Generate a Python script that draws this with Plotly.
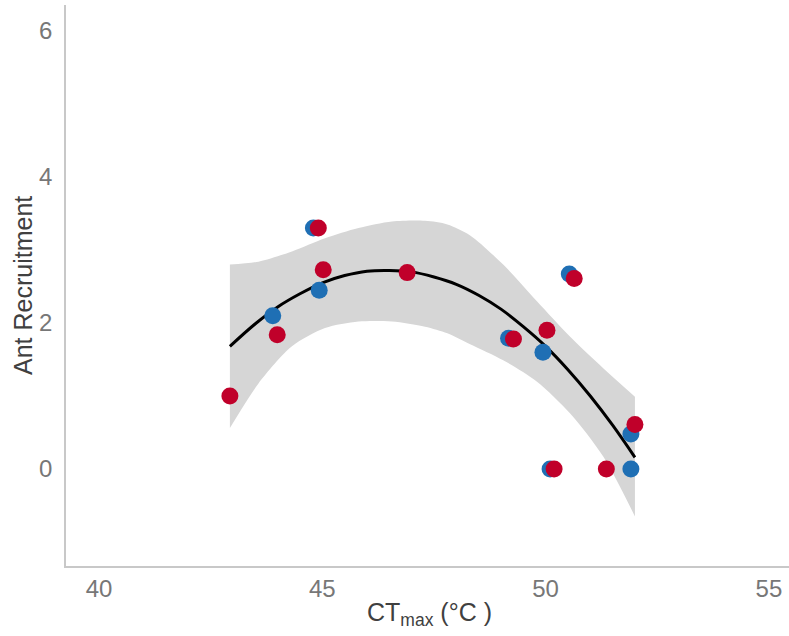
import plotly.graph_objects as go

# Observed points
red_x = [42.93, 43.99, 44.91, 45.02, 46.90, 49.28, 50.03, 50.64, 50.19, 51.36, 52.00]
red_y = [1.00, 1.84, 3.30, 2.73, 2.69, 1.78, 1.90, 2.61, 0.00, 0.00, 0.61]
blue_x = [44.80, 43.89, 44.93, 49.17, 49.94, 50.53, 50.10, 51.91, 51.91]
blue_y = [3.30, 2.10, 2.45, 1.79, 1.60, 2.67, 0.00, 0.00, 0.48]

# Fitted curve
fit_x = [42.93, 43.5, 44.0, 44.5, 45.0, 45.5, 46.0, 46.5, 47.0, 47.5, 48.0, 48.5,
         49.0, 49.5, 50.0, 50.5, 51.0, 51.5, 52.0]
fit_y = [1.68, 1.99, 2.22, 2.40, 2.55, 2.65, 2.71, 2.72, 2.70, 2.63, 2.53, 2.38,
         2.19, 1.95, 1.68, 1.36, 1.00, 0.60, 0.16]

# Confidence band
ci_x = [42.93, 43.57, 44.32, 45.06, 45.81, 46.56, 47.30, 47.80, 48.31, 49.05, 49.80, 50.55, 51.29, 52.00]
ci_hi = [2.80, 2.84, 2.98, 3.16, 3.30, 3.39, 3.40, 3.35, 3.20, 2.80, 2.30, 1.81, 1.38, 0.99]
ci_lo = [0.56, 1.17, 1.68, 1.93, 2.02, 2.02, 1.95, 1.86, 1.71, 1.49, 1.20, 0.76, 0.17, -0.65]

x_ticks = [40, 45, 50, 55]
y_ticks = [0, 2, 4, 6]

RED = "#C0002A"
BLUE = "#1F6FB4"

fig = go.Figure()
fig.add_trace(go.Scatter(x=ci_x, y=ci_lo, mode="lines", line=dict(width=0, shape="spline", smoothing=0.8),
                         hoverinfo="skip", showlegend=False))
fig.add_trace(go.Scatter(x=ci_x, y=ci_hi, mode="lines", line=dict(width=0, shape="spline", smoothing=0.8),
                         fill="tonexty", fillcolor="#D6D6D6", hoverinfo="skip", showlegend=False))
fig.add_trace(go.Scatter(x=fit_x, y=fit_y, mode="lines", line=dict(color="black", width=3, shape="spline"),
                         showlegend=False))
fig.add_trace(go.Scatter(x=blue_x, y=blue_y, mode="markers", marker=dict(color=BLUE, size=17),
                         showlegend=False))
fig.add_trace(go.Scatter(x=red_x, y=red_y, mode="markers", marker=dict(color=RED, size=17),
                         showlegend=False))

font_family = "Liberation Sans, Arial, sans-serif"
fig.update_layout(
    width=789, height=636,
    margin=dict(l=66, r=0, t=5, b=70),
    plot_bgcolor="white", paper_bgcolor="white",
    font=dict(family=font_family),
    xaxis=dict(range=[39.26, 55.45], tickvals=x_ticks, showgrid=False, zeroline=False,
               showline=True, linecolor="#C8C8C8", linewidth=1.5, automargin=False,
               ticks="", tickfont=dict(size=24, color="#777777")),
    yaxis=dict(range=[-1.329, 6.356], tickvals=y_ticks, showgrid=False, zeroline=False,
               showline=True, linecolor="#C8C8C8", linewidth=1.5, automargin=False,
               ticks="outside", ticklen=7, tickcolor="rgba(0,0,0,0)",
               tickfont=dict(size=24, color="#777777")),
    annotations=[
        dict(text="CT<sub>max</sub> (°C )", xref="paper", yref="paper", x=0.503, y=-0.0856,
             xanchor="center", yanchor="middle", showarrow=False,
             font=dict(size=25, color="#404040", family=font_family)),
        dict(text="Ant Recruitment", xref="paper", yref="paper", x=-0.0602, y=0.5,
             xanchor="center", yanchor="middle", textangle=-90, showarrow=False,
             font=dict(size=25, color="#404040", family=font_family)),
    ],
)

fig.write_html("out.html", config={"displayModeBar": False},
               post_script="document.body.style.margin='0';document.body.style.overflow='hidden';")
